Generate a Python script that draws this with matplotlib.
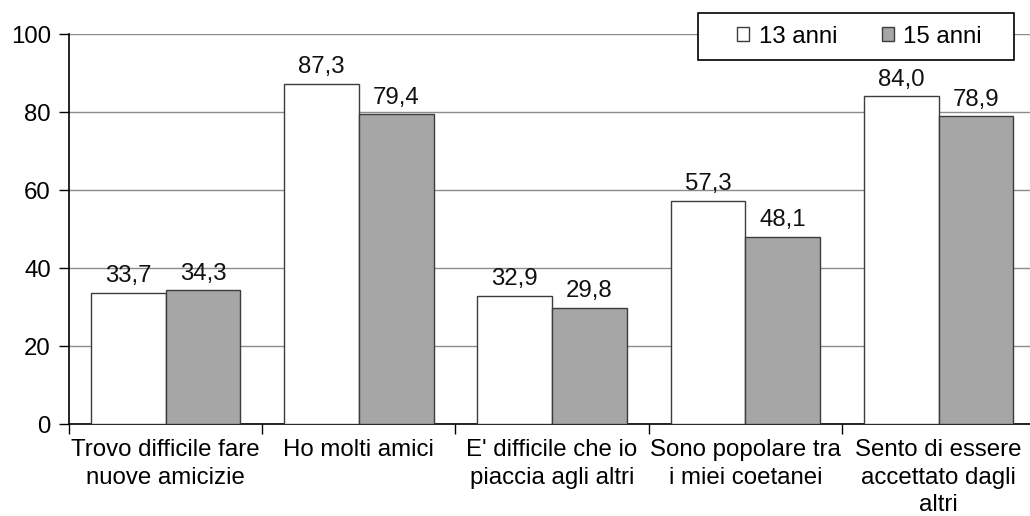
import numpy as np
import matplotlib.pyplot as plt
from matplotlib.patches import Patch, Rectangle

plt.rcParams['font.family'] = ['Liberation Sans', 'DejaVu Sans']

# Data
categorie = ['Trovo difficile fare\nnuove amicizie', 'Ho molti amici',
             "E' difficile che io\npiaccia agli altri", 'Sono popolare tra\ni miei coetanei',
             'Sento di essere\naccettato dagli\naltri']
anni13 = [33.7, 87.3, 32.9, 57.3, 84.0]
anni15 = [34.3, 79.4, 29.8, 48.1, 78.9]
serie = ['13 anni', '15 anni']

fig = plt.figure(figsize=(10.30, 5.16), dpi=100)
ax = fig.add_axes([0.067, 0.178, 0.938, 0.756])

x = np.arange(len(categorie))
w = 0.387
edge = '#3c3c3c'
b1 = ax.bar(x - w/2, anni13, w, color='white', edgecolor=edge, linewidth=1.0, zorder=3)
b2 = ax.bar(x + w/2, anni15, w, color='#a6a6a6', edgecolor=edge, linewidth=1.0, zorder=3)

fs = 17.3
for bars, vals in ((b1, anni13), (b2, anni15)):
    for r, v in zip(bars, vals):
        ax.text(r.get_x() + r.get_width()/2, v + 1.4, f'{v:.1f}'.replace('.', ','),
                ha='center', va='bottom', fontsize=fs, color='#111111')

ax.set_xlim(-0.5, len(categorie) - 0.5)
ax.set_ylim(0, 100)
ax.set_yticks([0, 20, 40, 60, 80, 100])
ax.yaxis.grid(True, color='#8c8c8c', linewidth=1.0, zorder=0)
ax.set_axisbelow(True)

# ticks at category boundaries, labels centred
ax.set_xticks(np.arange(len(categorie) + 1) - 0.5)
ax.set_xticklabels([])
ax.set_xticks(x, minor=True)
ax.set_xticklabels(categorie, minor=True, fontsize=fs, linespacing=1.3)
ax.tick_params(axis='x', which='minor', length=0, pad=11)
ax.tick_params(axis='x', which='major', length=7, width=1.0, direction='out')
ax.tick_params(axis='y', labelsize=fs, length=7, width=1.0, pad=6)

for s in ['top', 'right']:
    ax.spines[s].set_visible(False)
for s in ['left', 'bottom']:
    ax.spines[s].set_linewidth(1.2)
    ax.spines[s].set_color('black')

# legend: entries without frame, box drawn separately (wider padding)
handles = [Patch(facecolor='white', edgecolor=edge, label=serie[0]),
           Patch(facecolor='#a6a6a6', edgecolor=edge, label=serie[1])]
leg = fig.legend(handles=handles, ncol=2, loc='center', bbox_to_anchor=(0.8345, 0.929),
                 fontsize=fs, frameon=False,
                 handlelength=0.5, handleheight=0.5, handletextpad=0.4, columnspacing=1.85,
                 borderpad=0, borderaxespad=0)
box = Rectangle((698 / 1030, 1 - 60 / 516), 316 / 1030, 47 / 516, transform=fig.transFigure,
                facecolor='white', edgecolor='black', linewidth=1.2, zorder=5)
fig.add_artist(box)
leg.set_zorder(6)

fig.savefig('out.png', dpi=100, facecolor='white')
